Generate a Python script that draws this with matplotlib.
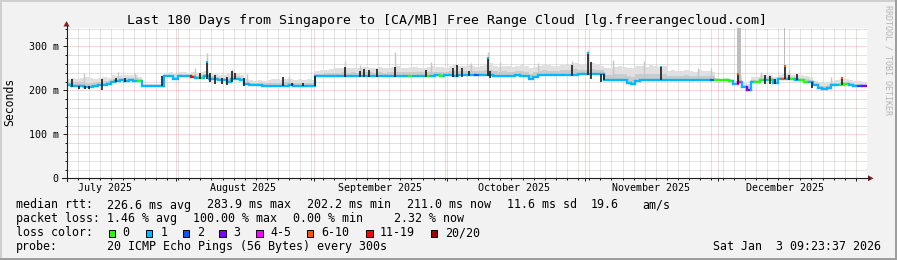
import numpy as np
import pandas as pd
import matplotlib
matplotlib.use("Agg")
import matplotlib.pyplot as plt
import matplotlib.dates as mdates
from matplotlib.collections import LineCollection
from matplotlib.patches import Rectangle, Polygon
from matplotlib.lines import Line2D

W, H = 897, 260
MONO = "DejaVu Sans Mono"

title = "Last 180 Days from Singapore to [CA/MB] Free Range Cloud [lg.freerangecloud.com]"
t_start = pd.Timestamp("2025-07-07 09:23:37")
n_days = 180

# median rtt per day (ms)
median_ms = [
    213, 211, 211, 211, 208, 207, 211, 212, 213, 215,
    220, 221, 223, 222, 223, 222, 221, 211, 211, 211,
    211, 211, 232, 232, 225, 232, 232, 232, 231, 228,
    228, 232, 226, 226, 223, 223, 218, 226, 226, 223,
    214, 213, 212, 212, 211, 211, 211, 211, 211, 211,
    212, 211, 211, 211, 211, 211, 232, 232, 232, 232,
    232, 232, 232, 232, 232, 232, 232, 232, 232, 232,
    232, 232, 233, 233, 232, 233, 233, 233, 232, 233,
    233, 233, 233, 234, 233, 234, 234, 233, 234, 234,
    235, 235, 235, 235, 235, 234, 233, 233, 233, 233,
    233, 234, 233, 232, 227, 230, 235, 235, 235, 235,
    235, 235, 236, 236, 236, 237, 237, 237, 237, 238,
    238, 223, 223, 223, 223, 223, 216, 215, 222, 223,
    223, 223, 223, 223, 223, 224, 224, 224, 224, 224,
    224, 224, 224, 224, 224, 224, 224, 224, 224, 222,
    214, 218, 207, 202, 219, 219, 223, 224, 224, 216,
    226, 226, 227, 225, 223, 223, 220, 219, 212, 205,
    204, 206, 213, 213, 213, 214, 213, 210, 210, 211,
]

# upper edge of the smoke per day (ms)
smoke_hi_ms = [
    226, 228, 227, 229, 230, 228, 227, 229, 230, 228,
    234, 233, 236, 235, 234, 236, 230, 215, 214, 215,
    214, 215, 240, 241, 238, 242, 241, 240, 241, 240,
    243, 245, 240, 238, 236, 235, 238, 242, 240, 236,
    225, 223, 222, 224, 222, 224, 225, 226, 224, 227,
    225, 223, 226, 224, 225, 224, 245, 246, 247, 248,
    250, 251, 252, 250, 252, 251, 253, 254, 252, 251,
    253, 250, 252, 253, 255, 252, 251, 253, 254, 252,
    251, 253, 255, 253, 254, 252, 256, 258, 256, 255,
    257, 256, 254, 256, 258, 262, 256, 254, 256, 255,
    253, 256, 257, 255, 252, 254, 256, 258, 257, 255,
    256, 258, 257, 259, 262, 258, 257, 260, 262, 258,
    256, 250, 252, 254, 256, 253, 251, 250, 255, 256,
    254, 257, 255, 253, 255, 244, 246, 245, 244, 247,
    245, 243, 246, 244, 245, 243, 228, 227, 228, 226,
    222, 232, 220, 214, 230, 231, 235, 236, 234, 230,
    236, 238, 240, 235, 236, 234, 232, 230, 222, 218,
    216, 219, 222, 224, 225, 226, 224, 222, 221, 220,
]

# loss class per day (index into loss_labels)
loss_idx = [
    1, 1, 1, 1, 1, 1, 1, 1, 1, 1,
    1, 1, 1, 1, 1, 1, 0, 1, 1, 1,
    1, 1, 1, 1, 1, 1, 1, 1, 6, 1,
    0, 1, 1, 1, 1, 1, 1, 1, 1, 1,
    1, 1, 1, 1, 1, 1, 1, 1, 1, 1,
    1, 1, 1, 1, 1, 1, 1, 1, 1, 1,
    1, 1, 1, 1, 1, 1, 1, 1, 1, 1,
    1, 1, 1, 1, 1, 1, 1, 0, 1, 1,
    1, 0, 1, 1, 0, 1, 1, 1, 1, 1,
    1, 1, 2, 1, 1, 1, 1, 1, 1, 1,
    1, 1, 1, 1, 1, 1, 1, 1, 1, 1,
    1, 1, 1, 1, 1, 1, 1, 1, 1, 1,
    1, 1, 1, 1, 1, 1, 1, 1, 1, 1,
    1, 1, 1, 1, 1, 1, 1, 1, 1, 1,
    1, 1, 1, 1, 1, 2, 0, 0, 0, 0,
    1, 4, 1, 3, 1, 0, 0, 1, 0, 1,
    1, 5, 1, 0, 1, 0, 0, 1, 1, 1,
    1, 1, 1, 1, 0, 0, 1, 1, 2, 3,
]

# dark smoke spikes (day offset, low ms, high ms)
spike_day = [1.24, 2.81, 4.16, 4.95, 7.99, 11.14, 13.16, 21.49, 30.04, 31.55,
             32.29, 33.41, 34.99, 36.11, 37.24, 37.91, 39.94, 48.71, 50.74, 53.21,
             55.91, 62.66, 66.04, 66.94, 68.06, 69.86, 73.91, 80.89, 86.96, 87.86,
             88.99, 90.56, 94.84, 95.29, 113.74, 117.34, 118.01, 120.26, 120.9, 133.76,
             150.98, 157.16, 158.29, 159.41, 161.55, 162.56, 164.36, 167.74, 174.49]
spike_lo = [207, 204, 204, 203, 202, 218, 219, 211, 225, 226,
            220, 215, 214, 212, 220, 225, 210, 211, 209, 209,
            211, 230, 230, 230, 230, 230, 230, 230, 230, 230,
            230, 232, 232, 228, 232, 235, 225, 220, 223, 223,
            214, 215, 215, 214, 226, 224, 223, 205, 213]
spike_hi = [227, 211, 211, 211, 225, 228, 229, 232, 240, 262,
            240, 235, 228, 230, 245, 240, 228, 230, 217, 217,
            232, 253, 245, 249, 247, 248, 253, 247, 250, 258,
            250, 245, 272, 245, 257, 283, 265, 238, 238, 253,
            236, 235, 232, 226, 253, 236, 238, 219, 226]

# coloured median tips on the big spikes
cap_day = [31.55, 94.84, 117.34, 133.76, 150.98, 161.55, 174.49]
cap_lo = [262, 272, 283, 253, 236, 253, 226]
cap_hi = [268, 277, 288, 256, 240, 257, 230]
cap_loss = [1, 1, 1, 1, 5, 5, 5]

# tall light smoke streaks (day offset, high ms)
streak_day = [3.9, 11.6, 15.3, 28.9, 31.55, 37.2, 40.5, 50.0, 62.66, 66.0,
              73.91, 82.0, 91.0, 94.84, 97.5, 106.0, 113.74, 117.34, 123.0, 130.0,
              142.0, 145.0, 156.2, 162.6, 172.0]
streak_hi = [240, 241, 239, 250, 284, 248, 238, 232, 268, 258,
             287, 264, 263, 287, 265, 263, 268, 291, 270, 268,
             252, 252, 242, 246, 230]

# full loss columns (day offset start, end)
gap_start = [150.95, 161.45]
gap_end = [151.75, 161.7]

loss_labels = ["0", "1", "2", "3", "4-5", "6-10", "11-19", "20/20"]
loss_colors = ["#26ff00", "#00b8ff", "#0059ff", "#7e00ff",
               "#ff00ff", "#ff5500", "#ff0000", "#a10000"]

legend_rtt = ["226.6 ms avg", "283.9 ms max", "202.2 ms min", "211.0 ms now",
              "11.6 ms sd", "19.6", "am/s"]
legend_loss = ["1.46 % avg", "100.00 % max", "0.00 % min", "2.32 % now"]
probe_text = "20 ICMP Echo Pings (56 Bytes) every 300s"
stamp = "Sat Jan  3 09:23:37 2026"

BACK = "#f2f2f2"
GRID = (0.56, 0.56, 0.56, 0.5)
MGRID = (0.87, 0.31, 0.31, 0.45)
AXIS = "#1f1f1f"
ARROW = "#801f1f"
DOT = (0, (1, 1))


def fx(px):
    return px / W


def fy(py):
    return 1 - py / H


fig = plt.figure(figsize=(W / 100, H / 100), dpi=100, facecolor=BACK)

ax = fig.add_axes([fx(66.5), fy(178.3), 800 / W, 150.3 / H])
ax.set_facecolor("white")
x0 = mdates.date2num(t_start)
ax.set_xlim(x0, x0 + n_days)
ytop = 342
ax.set_ylim(0, ytop)
for s in ax.spines.values():
    s.set_visible(False)

# grid
ygrid_minor = [v for v in range(20, ytop, 20) if v % 100]
ax.hlines(ygrid_minor, x0, x0 + n_days, colors=[GRID], linestyles=DOT, lw=0.72, zorder=1)
ax.hlines([100, 200, 300], x0, x0 + n_days, colors=[MGRID], linestyles=DOT, lw=0.72, zorder=1.1)
month_starts = pd.date_range("2025-08-01", "2026-01-01", freq="MS")
xm = mdates.date2num(month_starts)
jan1 = mdates.date2num(pd.Timestamp("2026-01-01"))
xminor = jan1 + 2.5 * np.arange(-72, 2)
xminor = [v for v in xminor if x0 < v < x0 + n_days and np.min(np.abs(xm - v)) > 0.3]
ax.vlines(xminor, 0, ytop, colors=[GRID], linestyles=DOT, lw=0.72, zorder=1)
ax.vlines(xm, 0, ytop, colors=[MGRID], linestyles=DOT, lw=0.72, zorder=1.1)

# smoke
xd = x0 + np.arange(n_days + 1)
med = np.array(median_ms, float)
hi = np.array(smoke_hi_ms, float)
med_s = np.append(med, med[-1])
hi_s = np.append(hi, hi[-1])
mid_s = med_s + 0.45 * (hi_s - med_s)
ax.fill_between(xd, med_s, mid_s, step="post", color="#cbcbcb", lw=0, zorder=2)
ax.fill_between(xd, mid_s, hi_s, step="post", color="#e0e0e0", lw=0, zorder=2)
sd = np.array(streak_day)
ax.vlines(x0 + sd, med[sd.astype(int)], streak_hi, colors="#c6c6c6", lw=1.0, zorder=2.2)
for a, b in zip(gap_start, gap_end):
    ax.fill_between([x0 + a, x0 + b], med[int(a)], ytop, color="#bdbdbd", lw=0, zorder=2.3)

# median line coloured by loss
segs, cols = [], []
for i in range(n_days):
    segs.append([(xd[i], med[i]), (xd[i + 1], med[i])])
    cols.append(loss_colors[loss_idx[i]])
    if i + 1 < n_days:
        segs.append([(xd[i + 1], med[i]), (xd[i + 1], med[i + 1])])
        cols.append(loss_colors[loss_idx[i + 1]])
ax.add_collection(LineCollection(segs, colors=cols, linewidths=1.6,
                                 capstyle="projecting", zorder=3))

ax.vlines(x0 + np.array(spike_day), spike_lo, spike_hi, colors="#1a1a1a", lw=1.2, zorder=4)
ax.vlines(x0 + np.array(cap_day), cap_lo, cap_hi,
          colors=[loss_colors[c] for c in cap_loss], lw=1.5, zorder=5)

# ticks and labels
ax.set_yticks([0, 100, 200, 300], ["0", "100 m", "200 m", "300 m"])
ax.set_yticks(ygrid_minor, minor=True)
ax.set_xticks(xm, [""] * len(xm))
ax.set_xticks(xminor, minor=True)
ax.tick_params(axis="y", which="major", length=3, width=0.72, color=AXIS, pad=2.5,
               labelsize=7.2, labelcolor="black")
ax.tick_params(axis="y", which="minor", length=1.5, width=0.72, color=AXIS)
ax.tick_params(axis="x", which="major", length=2.5, width=0.72, color=AXIS)
ax.tick_params(axis="x", which="minor", length=1.5, width=0.72, color=AXIS)
for lab in ax.get_yticklabels():
    lab.set_family(MONO)

label_months = pd.date_range("2025-07-01", "2025-12-01", freq="MS")
ylab = (178.3 - 190.8) / 150.3
for m in label_months:
    xl = mdates.date2num(m + pd.Timedelta(days=15))
    ax.text(xl, ylab, m.strftime("%B %Y"), transform=ax.get_xaxis_transform(),
            ha="center", va="baseline", fontsize=7.2, family=MONO, clip_on=False)

# axis lines and arrows
fig.add_artist(Line2D([fx(66.5), fx(66.5)], [fy(181), fy(26)], color=AXIS, lw=0.8))
fig.add_artist(Line2D([fx(62), fx(869)], [fy(178.3), fy(178.3)], color=AXIS, lw=0.8))
fig.add_artist(Polygon([(fx(63.5), fy(26.5)), (fx(69.5), fy(26.5)), (fx(66.5), fy(21))],
                       closed=True, color=ARROW, lw=0))
fig.add_artist(Polygon([(fx(868), fy(175.3)), (fx(868), fy(181.3)), (fx(873.5), fy(178.3))],
                       closed=True, color=ARROW, lw=0))

# title, labels
fig.text(fx(446.7), fy(24), title, ha="center", va="baseline", fontsize=9.5, family=MONO)
fig.text(fx(10), fy(102), "Seconds", rotation=90, ha="center", va="center",
         fontsize=8.3, family=MONO)
fig.text(fx(888), fy(5), "RRDTOOL / TOBI OETIKER", rotation=270, ha="center", va="top",
         fontsize=6, family=MONO, color="#b4b4b4")

# legend
FS = 8.4
fig.text(fx(16), fy(208.5), "median rtt:", fontsize=FS, family=MONO, va="baseline")
for xp, t in zip([107.3, 207.3, 307.3, 407.3, 507.3, 591.7, 642.7], legend_rtt):
    fig.text(fx(xp - 0.6), fy(208.5), t, fontsize=FS, family=MONO, va="baseline")
fig.text(fx(16), fy(222.2), "packet loss:", fontsize=FS, family=MONO, va="baseline")
for xp, t in zip([107.3, 193.3, 293.3, 395.0], legend_loss):
    fig.text(fx(xp - 0.6), fy(222.2), t, fontsize=FS, family=MONO, va="baseline")
fig.text(fx(16), fy(236.3), "loss color:", fontsize=FS, family=MONO, va="baseline")
box_x = [108.7, 145.7, 182.7, 219.3, 256.0, 306.7, 366.0, 430.7]
lab_x = [123.3, 161.0, 197.7, 234.0, 271.0, 321.7, 380.0, 446.0]
for bx, lx, c, t in zip(box_x, lab_x, loss_colors, loss_labels):
    fig.add_artist(Rectangle((fx(bx), fy(237.3)), 6.7 / W, 7.3 / H, facecolor=c,
                             edgecolor="black", lw=0.72))
    fig.text(fx(lx - 0.6), fy(236.3), t, fontsize=FS, family=MONO, va="baseline")
fig.text(fx(16), fy(250), "probe:", fontsize=FS, family=MONO, va="baseline")
fig.text(fx(106.7), fy(250), probe_text, fontsize=FS, family=MONO, va="baseline")
fig.text(fx(880.5), fy(250), stamp, fontsize=FS, family=MONO, va="baseline", ha="right")

# 3d frame
fig.add_artist(Rectangle((0, 1 - 2 / H), 1, 2 / H, color="#cfcfcf", lw=0))
fig.add_artist(Rectangle((0, 0), 2 / W, 1, color="#cfcfcf", lw=0))
fig.add_artist(Rectangle((0, 0), 1, 2.5 / H, color="#9e9e9e", lw=0))
fig.add_artist(Rectangle((1 - 2 / W, 0), 2 / W, 1, color="#9e9e9e", lw=0))

fig.savefig("out.png", dpi=100, facecolor=BACK)
